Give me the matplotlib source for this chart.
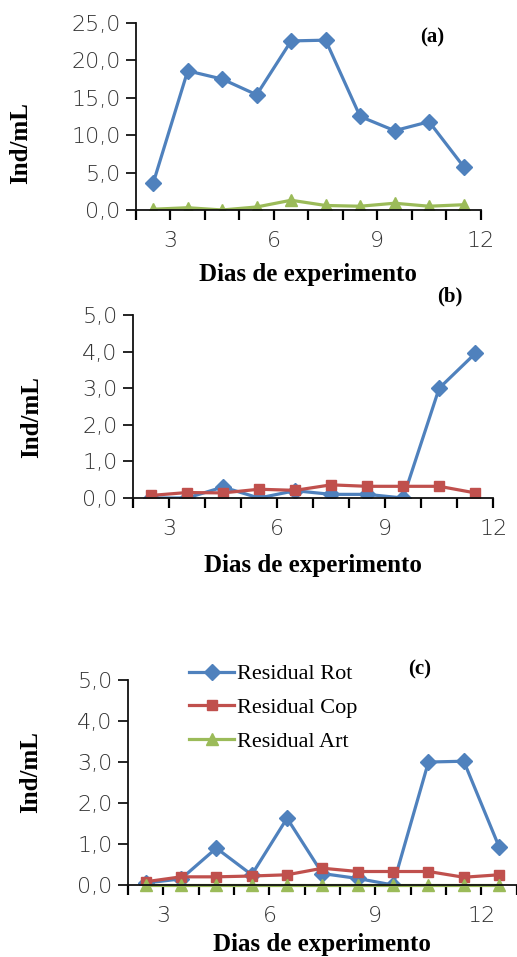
import matplotlib
matplotlib.use("Agg")
import matplotlib.pyplot as plt
from matplotlib.ticker import FixedLocator, FuncFormatter

# sampling days (points sit between the integer day marks)
days_ab = [2.5, 3.5, 4.5, 5.5, 6.5, 7.5, 8.5, 9.5, 10.5, 11.5]
days_c = [2.5, 3.5, 4.5, 5.5, 6.5, 7.5, 8.5, 9.5, 10.5, 11.5, 12.5]
day_labels = [3, 6, 9, 12]

# (a)
rot_a = [3.6, 18.6, 17.5, 15.4, 22.6, 22.7, 12.5, 10.6, 11.8, 5.8]
art_a = [0.1, 0.3, 0.0, 0.4, 1.3, 0.6, 0.5, 0.9, 0.5, 0.7]
# (b)
rot_b = [0.0, 0.0, 0.3, 0.0, 0.2, 0.1, 0.1, 0.0, 3.0, 3.95]
cop_b = [0.07, 0.15, 0.14, 0.24, 0.21, 0.36, 0.32, 0.32, 0.32, 0.14]
# (c) residual
rot_c = [0.05, 0.15, 0.9, 0.25, 1.63, 0.28, 0.16, 0.0, 3.0, 3.02, 0.93]
cop_c = [0.08, 0.2, 0.2, 0.22, 0.25, 0.41, 0.33, 0.33, 0.33, 0.19, 0.25]
art_c = [0.0, 0.0, 0.0, 0.0, 0.0, 0.0, 0.0, 0.0, 0.0, 0.0, 0.0]

BLUE = "#4F81BD"
RED = "#C0504D"
GREEN = "#9BBB59"

serif = "Liberation Serif"
comma = FuncFormatter(lambda v, p: ("%.1f" % v).replace(".", ","))


def setup(ax, xmax, ymax, ystep, tag, tag_xy, xpad):
    ax.set_xlim(2, xmax)
    ax.set_ylim(0, ymax)
    ax.set_yticks([ystep * i for i in range(int(round(ymax / ystep)) + 1)])
    ax.yaxis.set_major_formatter(comma)
    ax.xaxis.set_major_locator(FixedLocator(day_labels))
    ax.xaxis.set_minor_locator(FixedLocator(range(2, int(xmax) + 1)))
    for s in ("top", "right"):
        ax.spines[s].set_visible(False)
    for s in ("left", "bottom"):
        ax.spines[s].set_linewidth(1.3)
        ax.spines[s].set_color("#111")
    ax.tick_params(axis="y", length=7, width=1.2, pad=4, labelsize=16,
                   labelcolor="#333")
    ax.tick_params(axis="x", which="both", length=7, width=1.6, pad=8,
                   labelsize=16, labelcolor="#333")
    ax.set_xlabel("Dias de experimento", fontfamily=serif, fontweight="bold",
                  fontsize=18, labelpad=xpad)
    ax.set_ylabel("Ind/mL", fontfamily=serif, fontweight="bold", fontsize=18)
    ax.text(tag_xy[0], tag_xy[1], tag, transform=ax.transAxes,
            fontfamily=serif, fontweight="bold", fontsize=15,
            ha="center", va="center")
    for lab in ax.get_xticklabels() + ax.get_yticklabels():
        lab.set_fontfamily("DejaVu Sans")
        lab.set_fontweight("light")


fig = plt.figure(figsize=(5.17, 9.57), dpi=100)

line_kw = dict(linewidth=2.3)

ax1 = fig.add_axes([0.263, 0.7806, 0.667, 0.1954])
ax1.plot(days_ab, rot_a, color=BLUE, marker="D", markersize=8, **line_kw)
ax1.plot(days_ab, art_a, color=GREEN, marker="^", markersize=9, **line_kw)
setup(ax1, 12, 25, 5, "(a)", (0.86, 0.92), 9)
ax1.yaxis.set_label_coords(-0.30, 0.36)

ax2 = fig.add_axes([0.257, 0.4796, 0.697, 0.1912])
ax2.plot(days_ab, rot_b, color=BLUE, marker="D", markersize=8, **line_kw)
ax2.plot(days_ab, cop_b, color=RED, marker="s", markersize=7.5, **line_kw)
setup(ax2, 12, 5, 1, "(b)", (0.88, 1.10), 11)
ax2.yaxis.set_label_coords(-0.25, 0.44)

ax3 = fig.add_axes([0.2476, 0.0752, 0.752, 0.2142])
ax3.plot(days_c, rot_c, color=BLUE, marker="D", markersize=8,
         label="Residual Rot", **line_kw)
ax3.plot(days_c, cop_c, color=RED, marker="s", markersize=7.5,
         label="Residual Cop", **line_kw)
ax3.plot(days_c, art_c, color=GREEN, marker="^", markersize=9,
         label="Residual Art", clip_on=False, **line_kw)
setup(ax3, 13, 5, 1, "(c)", (0.75, 1.05), 5)
ax3.yaxis.set_label_coords(-0.222, 0.55)
ax3.spines["bottom"].set_bounds(2, 13)

leg = ax3.legend(loc="upper left", bbox_to_anchor=(0.345, 0.318),
                 bbox_transform=fig.transFigure, frameon=False,
                 prop={"family": serif, "size": 16}, handlelength=2.0,
                 handletextpad=0.15, labelspacing=0.6, borderpad=0)

fig.savefig("out.png", dpi=100, facecolor="white")
